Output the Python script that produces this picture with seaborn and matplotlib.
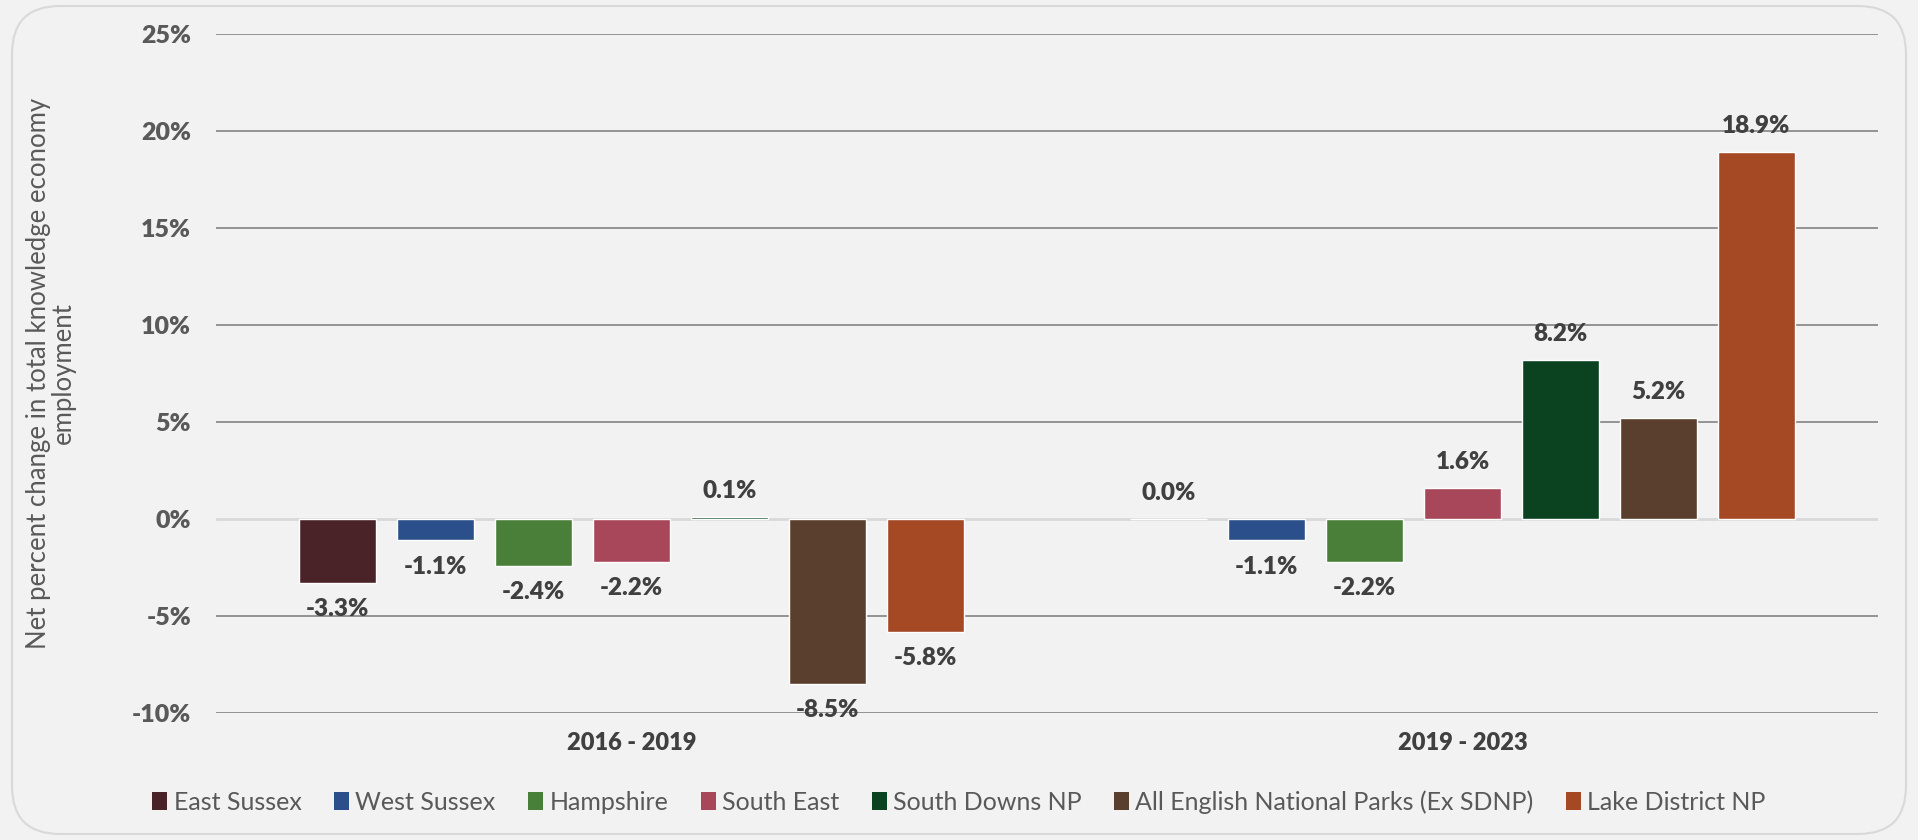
import pandas as pd
import seaborn as sns
import matplotlib.pyplot as plt
from matplotlib.patches import FancyBboxPatch, Patch

# data
periods = ["2016 - 2019", "2019 - 2023"]
regions = ["East Sussex", "West Sussex", "Hampshire", "South East",
           "South Downs NP", "All English National Parks (Ex SDNP)", "Lake District NP"]
vals_2016_2019 = [-3.3, -1.1, -2.4, -2.2, 0.1, -8.5, -5.8]
vals_2019_2023 = [0.0, -1.1, -2.2, 1.6, 8.2, 5.2, 18.9]
colors = ["#4a2328", "#2b4f8a", "#4a7f3a", "#a8475a", "#0b4321", "#5a3f2e", "#a54824"]
yticks = [-10, -5, 0, 5, 10, 15, 20, 25]

df = pd.DataFrame({
    "period": [periods[0]] * 7 + [periods[1]] * 7,
    "region": regions * 2,
    "value": vals_2016_2019 + vals_2019_2023,
})

sns.set_theme(style="white")
plt.rcParams['font.family'] = ['Lato', 'DejaVu Sans']

bg = "#f2f2f2"
fig = plt.figure(figsize=(19.18, 8.40), dpi=100, facecolor=bg)
# rounded frame around the chart
fig.patches.append(FancyBboxPatch((12 / 1918, 6 / 840), 1894 / 1918, 828 / 840,
                                  boxstyle="round,pad=0,rounding_size=0.025",
                                  transform=fig.transFigure, facecolor=bg,
                                  edgecolor="#d9d9d9", linewidth=1.5, zorder=-10,
                                  mutation_aspect=1918 / 840))

ax = fig.add_axes([216 / 1918, 1 - 713 / 840, 1662 / 1918, 679 / 840])
ax.set_facecolor(bg)

sns.barplot(data=df, x="period", y="value", hue="region", order=periods,
            hue_order=regions, palette=colors, saturation=1, width=0.825,
            gap=0.22, ax=ax, legend=False, zorder=3)

for cont, reg in zip(ax.containers, regions):
    vals = df[df.region == reg].value.tolist()
    ax.bar_label(cont, labels=[f"{v:.1f}%" for v in vals], padding=11,
                 fontsize=17.5, fontweight="heavy", color="#404040")

ax.set_ylim(-10, 25)
ax.set_yticks(yticks)
ax.set_yticklabels([f"{t}%" for t in yticks])
ax.yaxis.grid(True, color="#8c8c8c", linewidth=1.3)
ax.set_axisbelow(True)
ax.get_ygridlines()[2].set_color("#d9d9d9")
ax.get_ygridlines()[2].set_linewidth(2)
for s in ax.spines.values():
    s.set_visible(False)
ax.tick_params(axis="y", length=0, pad=18, labelsize=18, labelcolor="#595959")
ax.tick_params(axis="x", length=0, pad=14, labelsize=17, labelcolor="#404040")
for t in ax.get_yticklabels() + ax.get_xticklabels():
    t.set_fontweight("heavy")
ax.set_xlabel("")
ax.set_ylabel("Net percent change in total knowledge economy\nemployment",
              fontsize=18.5, color="#595959", labelpad=40, linespacing=1.0)

handles = [Patch(facecolor=c, edgecolor="none") for c in colors]
fig.legend(handles, regions, loc="center", bbox_to_anchor=(0.5, 1 - 802 / 840),
           ncol=7, frameon=False, fontsize=18, labelcolor="#595959",
           handlelength=0.6, handleheight=0.75, handletextpad=0.25,
           columnspacing=1.3)

plt.savefig("out.png", dpi=100, facecolor=bg)
